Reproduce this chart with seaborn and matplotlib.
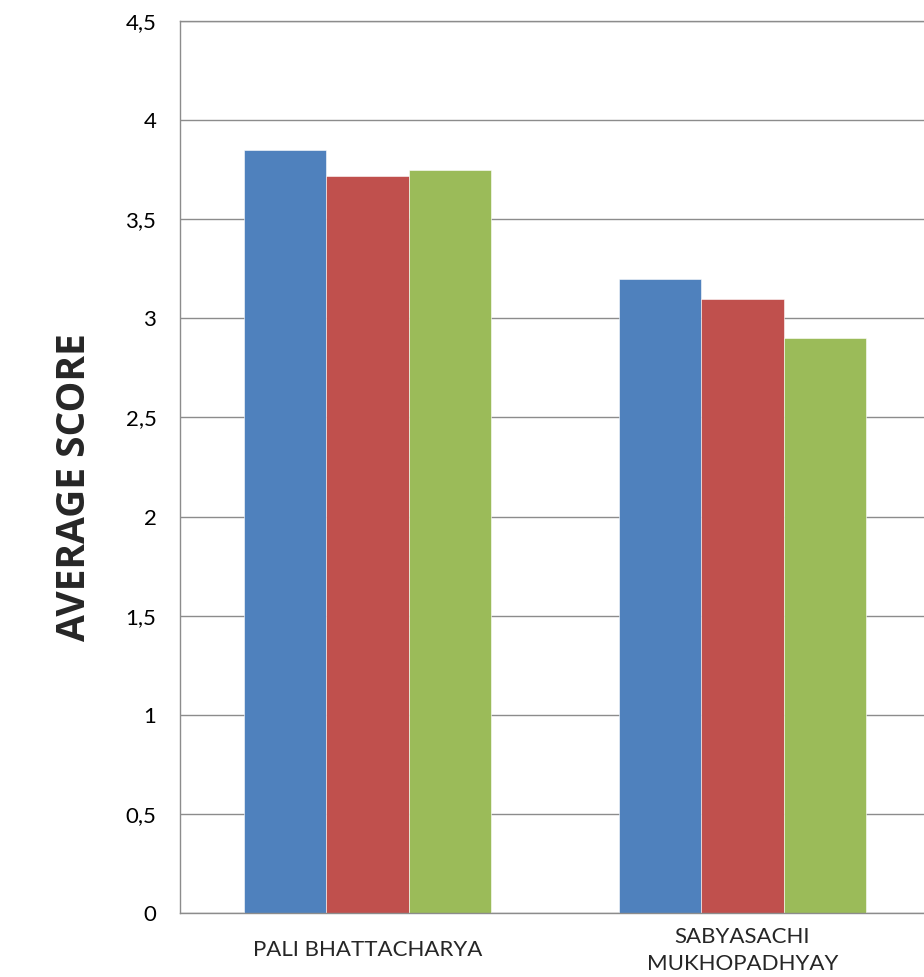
import pandas as pd
import numpy as np
import matplotlib
matplotlib.use("Agg")
import matplotlib.pyplot as plt
from matplotlib.ticker import FuncFormatter, FixedLocator
import seaborn as sns

# data
teachers = ["PALI BHATTACHARYA", "SABYASACHI\nMUKHOPADHYAY"]
series = ["Series 1", "Series 2", "Series 3"]
scores_s1 = [3.85, 3.20]
scores_s2 = [3.72, 3.10]
scores_s3 = [3.75, 2.90]
yticks = [0, 0.5, 1, 1.5, 2, 2.5, 3, 3.5, 4, 4.5]
colors = ["#4F81BD", "#C0504D", "#9BBB59"]

df = pd.DataFrame({
    "teacher": teachers * 3,
    "serie": [s for s in series for _ in teachers],
    "score": scores_s1 + scores_s2 + scores_s3,
})

sns.set_style("white")
plt.rcParams["font.family"] = ["Lato", "DejaVu Sans"]

fig = plt.figure(figsize=(9.24, 9.77), dpi=100)
ax = fig.add_axes([180 / 924, 64 / 977, 750 / 924, 892 / 977])

# grid first so bars sit on top
for y in yticks:
    ax.axhline(y, color="#8c8c8c", lw=1, zorder=0)

sns.barplot(data=df, x="teacher", y="score", hue="serie", order=teachers,
            hue_order=series, palette=colors, width=0.66, gap=0,
            saturation=1, legend=False, ax=ax, zorder=2)
for p in ax.patches:
    p.set_edgecolor("white")
    p.set_linewidth(0.4)

ax.set_xlim(-0.5, 1.5)
ax.set_ylim(0, 4.5)
ax.yaxis.set_major_locator(FixedLocator(yticks))
ax.yaxis.set_major_formatter(FuncFormatter(lambda v, pos: f"{v:g}".replace(".", ",")))
ax.tick_params(axis="y", length=0, pad=17, labelsize=16, colors="black")

# category dividers below the axis
ax.set_xticks([-0.5, 0.5, 1.5], minor=True)
ax.tick_params(axis="x", which="minor", length=48, width=1, color="#8c8c8c", direction="out")
ax.tick_params(axis="x", which="major", length=0, pad=27, labelsize=16)
for lab in ax.get_xticklabels():
    lab.set_verticalalignment("center")
    lab.set_linespacing(1.45)

for s in ax.spines.values():
    s.set_color("#8c8c8c")
    s.set_linewidth(1)

ax.set_xlabel("")
ax.set_ylabel("")
fig.text(75 / 924, 1 - 487 / 977, "AVERAGE SCORE", rotation=90, ha="center",
         va="center", fontsize=28, fontweight="bold", family="Open Sans")

fig.savefig("out.png", dpi=100)
